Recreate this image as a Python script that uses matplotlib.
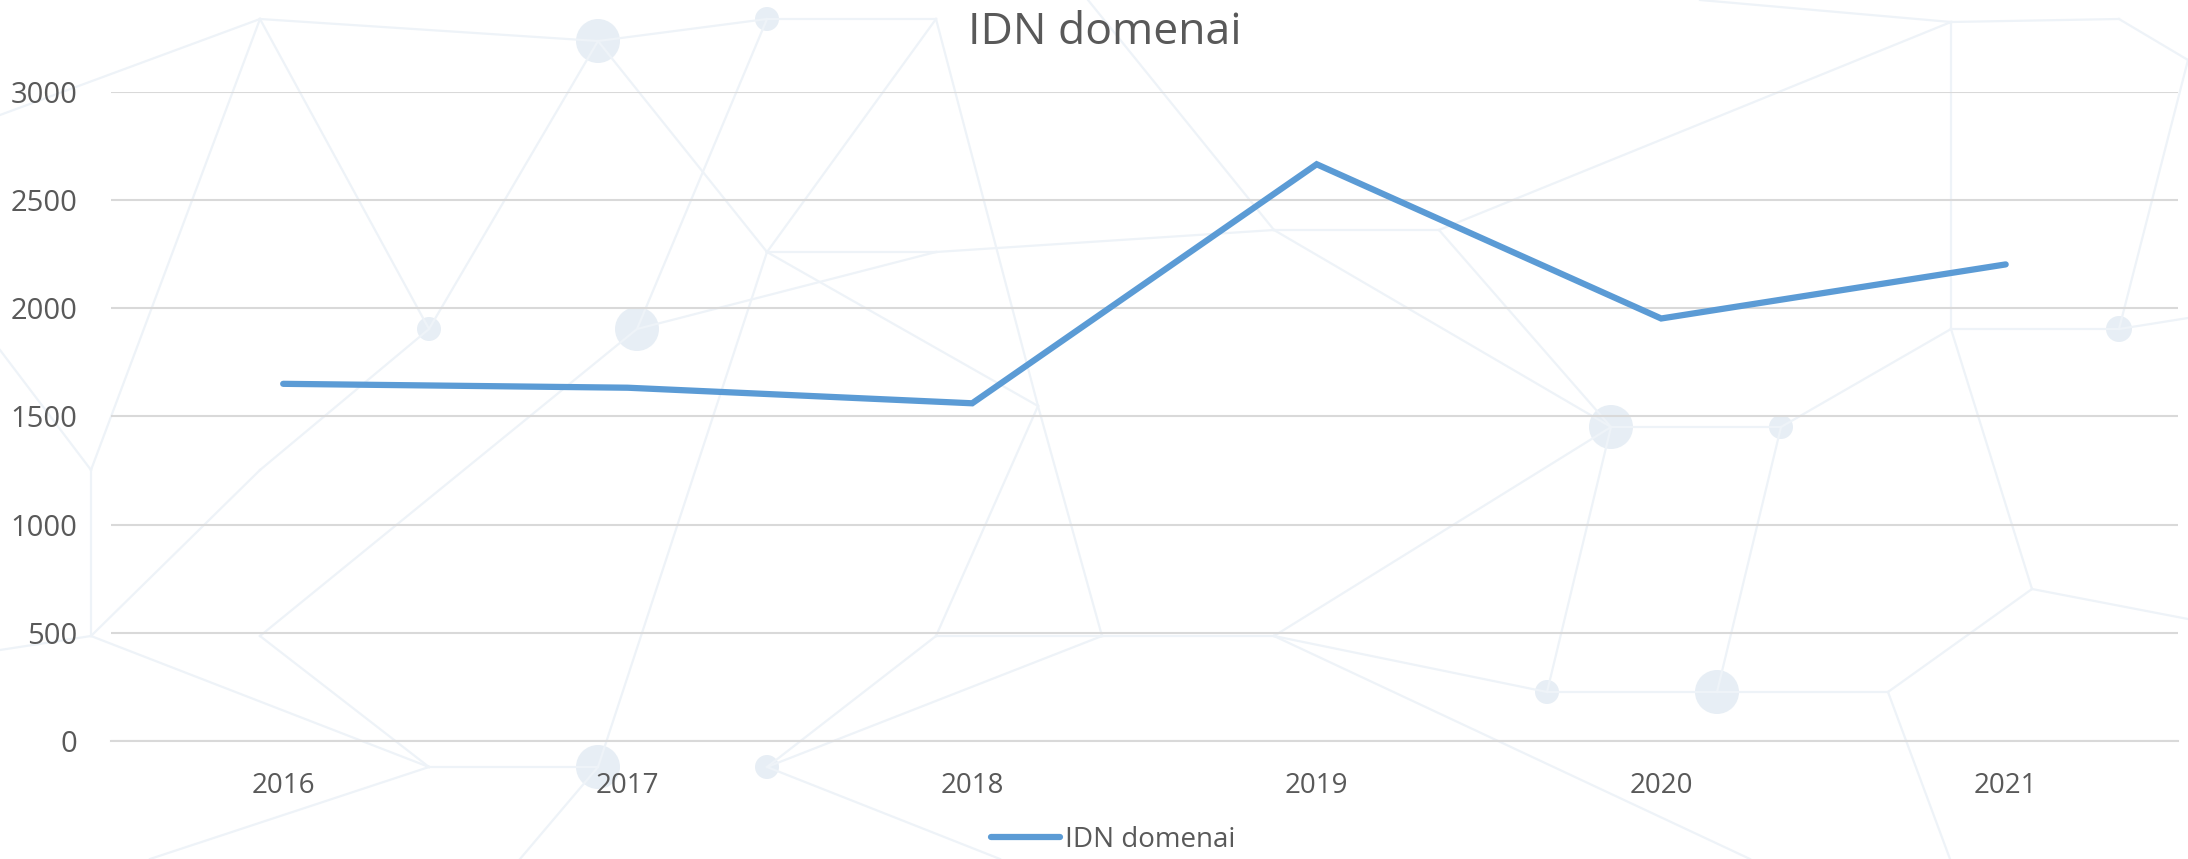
import matplotlib
matplotlib.use("Agg")
import matplotlib.pyplot as plt
from matplotlib.patches import Circle

out_fn = "out.png"

years = ["2016", "2017", "2018", "2019", "2020", "2021"]
idn_domains = [1651, 1633, 1561, 2666, 1953, 2203]
y_ticks = [0, 500, 1000, 1500, 2000, 2500, 3000]
series_name = "IDN domenai"
title = "IDN domenai"

W, H = 2188, 859

# faint network pattern behind the chart (pixel positions, y from top)
bg_nodes = {
	"L1": (0, 115), "L2": (0, 350), "L3": (0, 650), "T0": (1088, 0), "T2": (1700, 0),
	"N1": (260, 19), "N2": (598, 41), "N3": (767, 19), "N4": (936, 19),
	"N5": (429, 329), "N6": (637, 329), "N7": (91, 470), "N8": (260, 470),
	"N9": (767, 252), "N10": (936, 252), "N11": (1038, 406),
	"N12": (91, 636), "N13": (260, 636), "N14": (429, 767), "N15": (598, 767),
	"N16": (767, 767), "N17": (936, 636),
	"B1": (150, 859), "B3": (520, 859), "B4": (1000, 859), "BR": (1750, 859), "BR2": (1950, 859),
	"M1": (1274, 230), "M2": (1439, 230), "M3": (1611, 427), "M4": (1781, 427),
	"M5": (1951, 329), "M6": (2119, 329), "M7": (1951, 22), "M8": (2119, 19),
	"M9": (2032, 589), "M10": (1102, 636), "M11": (1274, 636), "M12": (1547, 692),
	"M13": (1717, 692), "M14": (1888, 692),
	"R1": (2188, 60), "R2": (2188, 619), "R3": (2188, 318),
}
bg_edges = [
	("L1", "N1"), ("N1", "N2"), ("N2", "N3"), ("N3", "N4"), ("N1", "N7"), ("N1", "N5"),
	("N2", "N5"), ("N2", "N9"), ("N3", "N6"), ("N4", "N9"), ("N4", "N11"), ("T0", "M1"),
	("N5", "N8"), ("N6", "N10"), ("N6", "N13"), ("N7", "L2"), ("N7", "N12"),
	("N8", "N12"), ("N9", "N10"), ("N9", "N11"), ("N10", "M1"), ("N11", "N17"),
	("N11", "M10"), ("N12", "L3"), ("N12", "N14"), ("N13", "N14"), ("N14", "B1"),
	("N15", "B3"), ("N15", "N14"), ("N16", "N17"), ("N16", "B4"), ("N17", "M10"),
	("N15", "N9"), ("M1", "M2"), ("M1", "M3"), ("M2", "M3"), ("M2", "M7"), ("M3", "M4"),
	("M3", "M12"), ("M4", "M5"), ("M4", "M13"), ("M5", "M6"), ("M5", "M7"), ("M5", "M9"),
	("M6", "R3"), ("M6", "R1"), ("M7", "M8"), ("M8", "R1"), ("M9", "M14"), ("M9", "R2"),
	("M10", "M11"), ("M11", "M12"), ("M12", "M13"), ("M13", "M14"), ("M14", "BR2"),
	("M11", "BR"), ("M7", "T2"), ("M10", "N16"), ("M11", "M3"),
]
bg_dots = [("N2", 22), ("N3", 12), ("N5", 12), ("N6", 22), ("N15", 22), ("N16", 12),
	("M3", 22), ("M4", 12), ("M6", 13), ("M12", 12), ("M13", 22)]

plt.rcParams['font.family'] = ['Open Sans', 'DejaVu Sans']
text_color = "#595959"

fig = plt.figure(figsize=(W / 100, H / 100), dpi=100)

bg = fig.add_axes([0, 0, 1, 1], zorder=-1)
bg.set_xlim(0, W)
bg.set_ylim(H, 0)
bg.axis("off")
for p, q in bg_edges:
	x0, y0 = bg_nodes[p]
	x1, y1 = bg_nodes[q]
	bg.plot([x0, x1], [y0, y1], color="#eef3f8", lw=1.6)
for name, r in bg_dots:
	bg.add_patch(Circle(bg_nodes[name], r, color="#e7eef5", lw=0))

ax = fig.add_axes([0.0507, 0.1374, 0.9447, 0.7555])
ax.patch.set_alpha(0)
xs = list(range(len(years)))
ax.plot(xs, idn_domains, color="#5B9BD5", lw=4.5, solid_capstyle="round",
	solid_joinstyle="miter", label=series_name)

ax.set_xlim(-0.5, len(years) - 0.5)
ax.set_ylim(0, 3000)
ax.set_yticks(y_ticks)
ax.set_xticks(xs)
ax.set_xticklabels(years)
ax.yaxis.grid(True, color="#d9d9d9", lw=1.5)
ax.set_axisbelow(True)
for s in ax.spines.values():
	s.set_visible(False)
ax.spines["bottom"].set_visible(True)
ax.spines["bottom"].set_color("#d9d9d9")
ax.spines["bottom"].set_linewidth(1.5)
ax.tick_params(axis="both", length=0, labelsize=20, colors=text_color)
ax.tick_params(axis="x", pad=22)
ax.tick_params(axis="y", pad=24, labelsize=21)

fig.text(0.505, 0.962, title, ha="center", va="center", fontsize=32,
	color=text_color, family=["Liberation Sans Narrow", "Open Sans", "DejaVu Sans"])

leg = fig.legend(loc="center", bbox_to_anchor=(0.5087, 0.022), frameon=False,
	fontsize=20, handlelength=2.5, handletextpad=0.15)
for t in leg.get_texts():
	t.set_color(text_color)

fig.savefig(out_fn, dpi=100)
